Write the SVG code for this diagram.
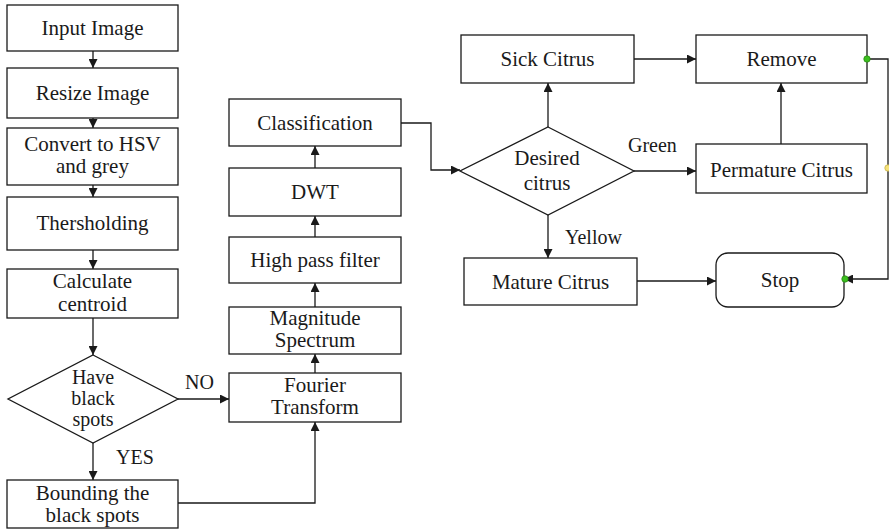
<svg xmlns="http://www.w3.org/2000/svg" width="889" height="530" viewBox="0 0 889 530">
  <style>
    .box { fill: #ffffff; stroke: #1a1a1a; stroke-width: 1.3; }
    .edge { fill: none; stroke: #1a1a1a; stroke-width: 1.3; }
    .dot-green { fill: #3cbf1f; stroke: #2a8a14; stroke-width: 0.8; }
    .dot-yellow { fill: #f5e27a; stroke: #c9b34a; stroke-width: 0.8; }
  </style>
  <defs>
    <marker id="arrow" viewBox="0 0 10 10" refX="10" refY="5" markerWidth="9" markerHeight="9" markerUnits="userSpaceOnUse" orient="auto">
      <path d="M0,0 L10,5 L0,10 z" fill="#1a1a1a"/>
    </marker>
  </defs>
  <rect width="889" height="530" fill="#ffffff"/>

  <!-- connectors -->
  <g id="connectors">
    <path class="edge" d="M93,51 V68" marker-end="url(#arrow)"/>
    <path class="edge" d="M93,118 V128" marker-end="url(#arrow)"/>
    <path class="edge" d="M93,185 V197" marker-end="url(#arrow)"/>
    <path class="edge" d="M93,250 V269" marker-end="url(#arrow)"/>
    <path class="edge" d="M93,318 V355" marker-end="url(#arrow)"/>
    <path class="edge" d="M93,443 V480" marker-end="url(#arrow)"/>
    <path class="edge" d="M178,399 H229" marker-end="url(#arrow)"/>
    <path class="edge" d="M178,503 H315 V422" marker-end="url(#arrow)"/>
    <path class="edge" d="M315,373 V354" marker-end="url(#arrow)"/>
    <path class="edge" d="M315,307 V283" marker-end="url(#arrow)"/>
    <path class="edge" d="M315,237 V216" marker-end="url(#arrow)"/>
    <path class="edge" d="M315,168 V146" marker-end="url(#arrow)"/>
    <path class="edge" d="M401,123 H431 V170 H460" marker-end="url(#arrow)"/>
    <path class="edge" d="M548,127 V83" marker-end="url(#arrow)"/>
    <path class="edge" d="M634,59 H696" marker-end="url(#arrow)"/>
    <path class="edge" d="M634,171 H696" marker-end="url(#arrow)"/>
    <path class="edge" d="M781,144 V83" marker-end="url(#arrow)"/>
    <path class="edge" d="M548,215 V258" marker-end="url(#arrow)"/>
    <path class="edge" d="M637,281 H716" marker-end="url(#arrow)"/>
    <path class="edge" d="M867,59 H888 V279 H844" marker-end="url(#arrow)"/>
    <g font-family="Liberation Serif" font-size="20" fill="#1a1a1a">
      <text x="185" y="389">NO</text>
      <text x="116" y="464">YES</text>
      <text x="628" y="152">Green</text>
      <text x="565" y="244">Yellow</text>
    </g>
  </g>

  <g font-family="Liberation Serif" font-size="21" fill="#1a1a1a" text-anchor="middle">
    <!-- left column -->
    <g id="input-image">
      <rect class="box" x="7" y="5" width="171" height="46"/>
      <text x="92.5" y="35">Input Image</text>
    </g>
    <g id="resize-image">
      <rect class="box" x="7" y="68" width="171" height="50"/>
      <text x="92.5" y="100">Resize Image</text>
    </g>
    <g id="convert-hsv">
      <rect class="box" x="7" y="128" width="171" height="57"/>
      <text x="92.5" y="151">Convert to HSV</text>
      <text x="92.5" y="173">and grey</text>
    </g>
    <g id="thresholding">
      <rect class="box" x="7" y="197" width="171" height="53"/>
      <text x="92.5" y="230">Thersholding</text>
    </g>
    <g id="calculate-centroid">
      <rect class="box" x="7" y="269" width="171" height="49"/>
      <text x="92.5" y="288">Calculate</text>
      <text x="92.5" y="311">centroid</text>
    </g>
    <g id="have-black-spots" font-size="20">
      <polygon class="box" points="93,355 178,399 93,443 8,399"/>
      <text x="93" y="384">Have</text>
      <text x="93" y="405">black</text>
      <text x="93" y="426">spots</text>
    </g>
    <g id="bounding-spots">
      <rect class="box" x="7" y="480" width="171" height="48"/>
      <text x="92.5" y="500">Bounding the</text>
      <text x="92.5" y="522">black spots</text>
    </g>

    <!-- middle column -->
    <g id="fourier-transform">
      <rect class="box" x="229" y="373" width="172" height="49"/>
      <text x="315" y="392">Fourier</text>
      <text x="315" y="414">Transform</text>
    </g>
    <g id="magnitude-spectrum">
      <rect class="box" x="229" y="307" width="172" height="47"/>
      <text x="315" y="325">Magnitude</text>
      <text x="315" y="347">Spectrum</text>
    </g>
    <g id="high-pass-filter">
      <rect class="box" x="229" y="237" width="172" height="46"/>
      <text x="315" y="267">High pass filter</text>
    </g>
    <g id="dwt">
      <rect class="box" x="229" y="168" width="172" height="48"/>
      <text x="315" y="199">DWT</text>
    </g>
    <g id="classification">
      <rect class="box" x="229" y="99" width="172" height="47"/>
      <text x="315" y="130">Classification</text>
    </g>

    <!-- right section -->
    <g id="desired-citrus">
      <polygon class="box" points="548,127 634,171 548,215 460,171"/>
      <text x="547" y="165">Desired</text>
      <text x="547" y="190">citrus</text>
    </g>
    <g id="sick-citrus">
      <rect class="box" x="461" y="35" width="173" height="48"/>
      <text x="547.5" y="66">Sick Citrus</text>
    </g>
    <g id="remove">
      <rect class="box" x="696" y="35" width="171" height="48"/>
      <text x="781.5" y="66">Remove</text>
    </g>
    <g id="permature-citrus">
      <rect class="box" x="696" y="144" width="171" height="49"/>
      <text x="781.5" y="177">Permature Citrus</text>
    </g>
    <g id="mature-citrus">
      <rect class="box" x="464" y="258" width="173" height="47"/>
      <text x="550.5" y="289">Mature Citrus</text>
    </g>
    <g id="stop">
      <rect class="box" x="716" y="253" width="128" height="54" rx="12" ry="12"/>
      <text x="780" y="287">Stop</text>
    </g>
  </g>

  <!-- connection point markers on the Remove/Stop link -->
  <g id="link-points">
    <circle class="dot-green" cx="867" cy="59" r="3.2"/>
    <circle class="dot-green" cx="845" cy="279" r="3.2"/>
    <circle class="dot-yellow" cx="888" cy="168" r="3.2"/>
  </g>
</svg>
